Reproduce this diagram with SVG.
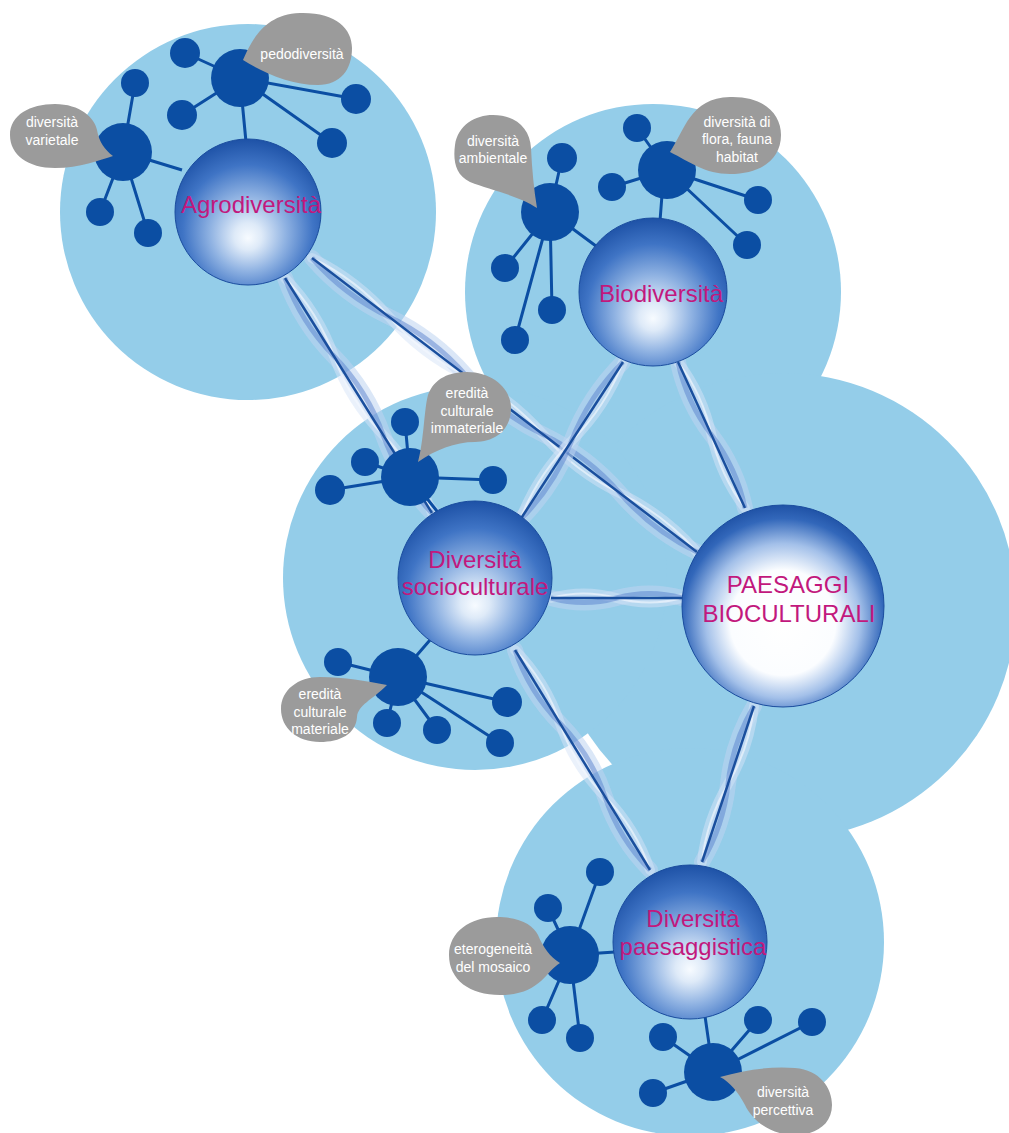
<svg xmlns="http://www.w3.org/2000/svg" width="1009" height="1133" viewBox="0 0 1009 1133">
<defs>
<radialGradient id="sph" cx="0.5" cy="0.6" r="0.62" fx="0.5" fy="0.68">
<stop offset="0" stop-color="#f7fbff"/>
<stop offset="0.15" stop-color="#deeaf8"/>
<stop offset="0.42" stop-color="#8fb2e2"/>
<stop offset="0.72" stop-color="#3f74c5"/>
<stop offset="1" stop-color="#1a4ea3"/>
</radialGradient>
<radialGradient id="sphBig" cx="0.5" cy="0.56" r="0.58" fx="0.5" fy="0.6">
<stop offset="0" stop-color="#ffffff"/>
<stop offset="0.45" stop-color="#fbfdff"/>
<stop offset="0.66" stop-color="#a3c0e9"/>
<stop offset="0.86" stop-color="#3267ba"/>
<stop offset="1" stop-color="#1a4ca0"/>
</radialGradient>
</defs>
<style>
.bg{fill:#94cde9}
.sphere{fill:url(#sph);stroke:#1a4c9e;stroke-width:1}
.big{fill:url(#sphBig);stroke:#1a4c9e;stroke-width:1}
.hub{fill:#0b4ea3}
.sat{fill:#0b4ea3}
.spoke{stroke:#0b4ea3;stroke-width:3;fill:none}
.bubble{fill:#9b9b9b}
.btxt{font-family:"Liberation Sans",Arial,sans-serif;font-size:14px;fill:#ffffff;text-anchor:middle}
.lbl{font-family:"Liberation Sans",Arial,sans-serif;font-size:24px;fill:#c2187d;text-anchor:middle}
.band{fill:none;stroke:#bdd3f0;stroke-opacity:0.55;stroke-width:16;stroke-linecap:round}
.band2{fill:none;stroke:#d6e4f7;stroke-opacity:0.5;stroke-width:10;stroke-linecap:round}
.wave{fill:none;stroke:#5a82cd;stroke-opacity:0.5;stroke-width:5}
.wave2{fill:none;stroke:#f2f7fd;stroke-opacity:0.65;stroke-width:2}
.link{stroke:#1a4f9e;stroke-width:2.5;fill:none}
</style>
<rect width="1009" height="1133" fill="#ffffff"/>
<g id="background">
<circle class="bg" cx="248" cy="212" r="188"/>
<circle class="bg" cx="653" cy="292" r="188"/>
<circle class="bg" cx="783" cy="606" r="233"/>
<circle class="bg" cx="475" cy="578" r="192"/>
<circle class="bg" cx="690" cy="942" r="194"/>
</g>
<g id="connectors">
<g id="c-agro-socio">
<path class="band" d="M285 278 Q301 322.5 334 356.3 T383 434.7 T432 513"/>
<path class="band2" d="M285 278 Q318 311.9 334 356.3 T383 434.7 T432 513"/>
<path class="wave" d="M285 278 Q301 322.5 334 356.3 T383 434.7 T432 513"/>
<path class="wave2" d="M285 278 Q318 311.9 334 356.3 T383 434.7 T432 513"/>
<path class="link" d="M285 278 L432 513"/>
</g>
<g id="c-agro-paesaggi">
<path class="band" d="M312 258 Q344.4 295.4 389 316.8 T466 375.6 T543 434.4 T620 493.2 T697 552"/>
<path class="band2" d="M312 258 Q356.6 279.5 389 316.8 T466 375.6 T543 434.4 T620 493.2 T697 552"/>
<path class="wave" d="M312 258 Q344.4 295.4 389 316.8 T466 375.6 T543 434.4 T620 493.2 T697 552"/>
<path class="wave2" d="M312 258 Q356.6 279.5 389 316.8 T466 375.6 T543 434.4 T620 493.2 T697 552"/>
<path class="link" d="M312 258 L697 552"/>
</g>
<g id="c-bio-socio">
<path class="band" d="M623 362 Q588.9 396 571.5 441 T520 520"/>
<path class="band2" d="M623 362 Q605.6 407 571.5 441 T520 520"/>
<path class="wave" d="M623 362 Q588.9 396 571.5 441 T520 520"/>
<path class="wave2" d="M623 362 Q605.6 407 571.5 441 T520 520"/>
<path class="link" d="M623 362 L520 520"/>
</g>
<g id="c-bio-paesaggi">
<path class="band" d="M678 362 Q686.6 402.3 711.5 435 T745 508"/>
<path class="band2" d="M678 362 Q702.9 394.7 711.5 435 T745 508"/>
<path class="wave" d="M678 362 Q686.6 402.3 711.5 435 T745 508"/>
<path class="wave2" d="M678 362 Q702.9 394.7 711.5 435 T745 508"/>
<path class="link" d="M678 362 L745 508"/>
</g>
<g id="c-socio-paesaggi">
<path class="band" d="M551 598 Q583.75 607 616.5 598 T682 598"/>
<path class="band2" d="M551 598 Q583.75 589 616.5 598 T682 598"/>
<path class="wave" d="M551 598 Q583.75 607 616.5 598 T682 598"/>
<path class="wave2" d="M551 598 Q583.75 589 616.5 598 T682 598"/>
<path class="link" d="M551 598 L682 598"/>
</g>
<g id="c-socio-paesaggistica">
<path class="band" d="M515 650 Q529 691.9 560 723.3 T605 796.7 T650 870"/>
<path class="band2" d="M515 650 Q546 681.5 560 723.3 T605 796.7 T650 870"/>
<path class="wave" d="M515 650 Q529 691.9 560 723.3 T605 796.7 T650 870"/>
<path class="wave2" d="M515 650 Q546 681.5 560 723.3 T605 796.7 T650 870"/>
<path class="link" d="M515 650 L650 870"/>
</g>
<g id="c-paesaggi-paesaggistica">
<path class="band" d="M754 706 Q732.5 742.2 728 784 T702 862"/>
<path class="band2" d="M754 706 Q749.5 747.8 728 784 T702 862"/>
<path class="wave" d="M754 706 Q732.5 742.2 728 784 T702 862"/>
<path class="wave2" d="M754 706 Q749.5 747.8 728 784 T702 862"/>
<path class="link" d="M754 706 L702 862"/>
</g>
</g>
<g id="node-agrodiversita">
<g id="hub-pedodiversita">
<path class="spoke" d="M240 78 L185 53 M240 78 L182 115 M240 78 L356 99 M240 78 L332 143 M242 100 L246 142"/>
<circle class="sat" cx="185" cy="53" r="15"/>
<circle class="sat" cx="182" cy="115" r="15"/>
<circle class="sat" cx="356" cy="99" r="15"/>
<circle class="sat" cx="332" cy="143" r="15"/>
<circle class="hub" cx="240" cy="78" r="29"/>
<path class="bubble" d="M243 60 C250 45 262 14 300 13 C335 12 352 28 352 48 C352 70 340 85 318 85 C290 85 262 72 243 60 Z"/>
<text class="btxt" x="302" y="59">pedodiversità</text>
</g>
<g id="hub-varietale">
<path class="spoke" d="M123 152 L135 83 M123 152 L100 212 M123 152 L148 233 M123 152 L182 170"/>
<circle class="sat" cx="135" cy="83" r="14"/>
<circle class="sat" cx="100" cy="212" r="14"/>
<circle class="sat" cx="148" cy="233" r="14"/>
<circle class="hub" cx="123" cy="152" r="29"/>
<path class="bubble" d="M113 156 C100 160 80 168 55 168 C28 168 10 155 10 135 C10 115 30 104 55 104 C80 104 95 118 97 130 C99 142 105 150 113 156 Z"/>
<text class="btxt" x="52" y="127">diversità</text>
<text class="btxt" x="52" y="145">varietale</text>
</g>
<circle class="sphere" cx="248" cy="212" r="73"/>
<text class="lbl" x="251" y="213">Agrodiversità</text>
</g>
<g id="node-biodiversita">
<g id="hub-ambientale">
<path class="spoke" d="M550 212 L562 158 M550 212 L505 268 M550 212 L552 310 M550 212 L515 340 M550 212 L600 249"/>
<circle class="sat" cx="562" cy="158" r="15"/>
<circle class="sat" cx="505" cy="268" r="14"/>
<circle class="sat" cx="552" cy="310" r="14"/>
<circle class="sat" cx="515" cy="340" r="14"/>
<circle class="hub" cx="550" cy="212" r="29"/>
<path class="bubble" d="M537 208 C520 196 490 190 470 182 C455 175 453 160 455 145 C458 125 475 115 493 115 C515 115 530 128 531 148 C532 170 534 190 537 208 Z"/>
<text class="btxt" x="493" y="146">diversità</text>
<text class="btxt" x="493" y="163">ambientale</text>
</g>
<g id="hub-flora">
<path class="spoke" d="M667 170 L637 128 M667 170 L612 187 M667 170 L758 200 M667 170 L747 245 M662 195 L660 221"/>
<circle class="sat" cx="637" cy="128" r="14"/>
<circle class="sat" cx="612" cy="187" r="14"/>
<circle class="sat" cx="758" cy="200" r="14"/>
<circle class="sat" cx="747" cy="245" r="14"/>
<circle class="hub" cx="667" cy="170" r="29"/>
<path class="bubble" d="M670 152 C685 130 690 98 730 97 C765 96 781 115 781 135 C781 160 760 174 730 174 C705 174 690 162 670 152 Z"/>
<text class="btxt" x="737" y="127">diversità di</text>
<text class="btxt" x="737" y="144">flora, fauna</text>
<text class="btxt" x="737" y="162">habitat</text>
</g>
<circle class="sphere" cx="653" cy="292" r="74"/>
<text class="lbl" x="661" y="302">Biodiversità</text>
</g>
<g id="node-socioculturale">
<g id="hub-immateriale">
<path class="spoke" d="M410 477 L405 422 M410 477 L365 462 M410 477 L330 490 M410 477 L493 480 M410 477 L440 515"/>
<circle class="sat" cx="405" cy="422" r="14"/>
<circle class="sat" cx="365" cy="462" r="14"/>
<circle class="sat" cx="330" cy="490" r="15"/>
<circle class="sat" cx="493" cy="480" r="14"/>
<circle class="hub" cx="410" cy="477" r="29"/>
<path class="bubble" d="M418 462 C424 440 424 410 428 395 C434 378 450 372 467 372 C492 372 511 388 511 408 C511 430 495 442 475 442 C455 442 435 450 418 462 Z"/>
<text class="btxt" x="467" y="398">eredità</text>
<text class="btxt" x="467" y="416">culturale</text>
<text class="btxt" x="467" y="433">immateriale</text>
</g>
<g id="hub-materiale">
<path class="spoke" d="M398 677 L338 662 M398 677 L507 702 M398 677 L387 723 M398 677 L437 730 M398 677 L500 743 M398 677 L430 640"/>
<circle class="sat" cx="338" cy="662" r="14"/>
<circle class="sat" cx="507" cy="702" r="15"/>
<circle class="sat" cx="387" cy="723" r="14"/>
<circle class="sat" cx="437" cy="730" r="14"/>
<circle class="sat" cx="500" cy="743" r="14"/>
<circle class="hub" cx="398" cy="677" r="29"/>
<path class="bubble" d="M387 685 C372 700 358 705 357 717 C356 734 340 742 320 742 C297 742 281 728 281 709 C281 690 298 677 320 677 C345 677 365 681 387 685 Z"/>
<text class="btxt" x="320" y="699">eredità</text>
<text class="btxt" x="320" y="717">culturale</text>
<text class="btxt" x="320" y="734">materiale</text>
</g>
<circle class="sphere" cx="475" cy="578" r="77"/>
<text class="lbl" x="475" y="568">Diversità</text>
<text class="lbl" x="475" y="595">socioculturale</text>
</g>
<g id="node-paesaggi-bioculturali">
<circle class="big" cx="783" cy="606" r="101"/>
<text class="lbl" x="788" y="593">PAESAGGI</text>
<text class="lbl" x="789" y="622">BIOCULTURALI</text>
</g>
<g id="node-paesaggistica">
<g id="hub-mosaico">
<path class="spoke" d="M570 955 L600 872 M570 955 L548 908 M570 955 L542 1020 M570 955 L580 1038 M570 955 L615 952"/>
<circle class="sat" cx="600" cy="872" r="14"/>
<circle class="sat" cx="548" cy="908" r="14"/>
<circle class="sat" cx="542" cy="1020" r="14"/>
<circle class="sat" cx="580" cy="1038" r="14"/>
<circle class="hub" cx="570" cy="955" r="29"/>
<path class="bubble" d="M560 963 C545 972 540 995 500 995 C470 995 449 980 449 955 C449 932 470 917 497 917 C520 917 533 925 538 935 C543 947 550 957 560 963 Z"/>
<text class="btxt" x="493" y="954">eterogeneità</text>
<text class="btxt" x="493" y="972">del mosaico</text>
</g>
<g id="hub-percettiva">
<path class="spoke" d="M713 1072 L663 1037 M713 1072 L758 1020 M713 1072 L812 1022 M713 1072 L653 1093 M713 1072 L705 1016"/>
<circle class="sat" cx="663" cy="1037" r="14"/>
<circle class="sat" cx="758" cy="1020" r="14"/>
<circle class="sat" cx="812" cy="1022" r="14"/>
<circle class="sat" cx="653" cy="1093" r="14"/>
<circle class="hub" cx="713" cy="1072" r="29"/>
<path class="bubble" d="M720 1077 C745 1070 770 1066 795 1068 C820 1070 832 1088 832 1105 C832 1125 815 1135 795 1135 C770 1135 752 1120 745 1105 C738 1092 730 1082 720 1077 Z"/>
<text class="btxt" x="783" y="1097">diversità</text>
<text class="btxt" x="783" y="1115">percettiva</text>
</g>
<circle class="sphere" cx="690" cy="942" r="77"/>
<text class="lbl" x="693" y="927">Diversità</text>
<text class="lbl" x="693" y="955">paesaggistica</text>
</g>
</svg>
